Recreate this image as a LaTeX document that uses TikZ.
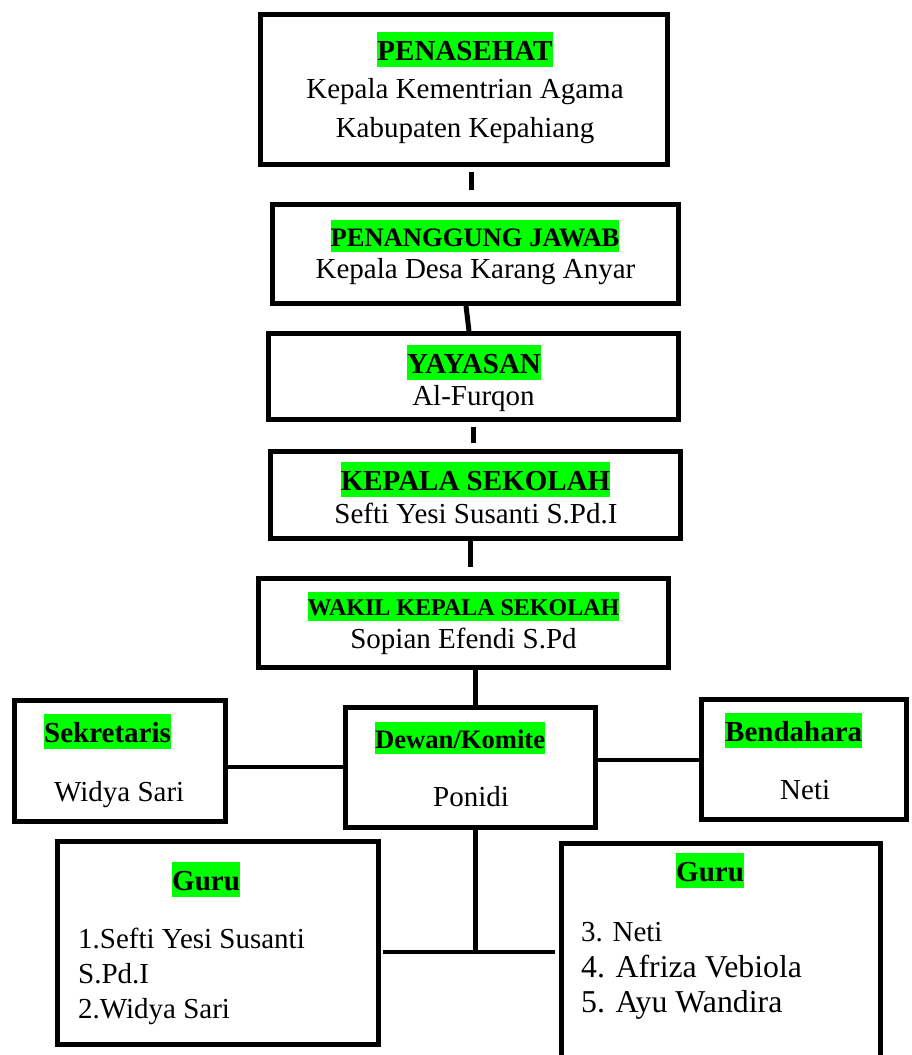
\documentclass[tikz,border=0pt]{standalone}
\usepackage{fontspec}
\setmainfont{Liberation Serif}
\definecolor{hlgreen}{RGB}{0,255,0}
\newcommand\hlbox[1]{{\setlength\fboxsep{0pt}\colorbox{hlgreen}{\rule[-0.24em]{0pt}{1.2em}#1}}}
\newcommand\fsz[1]{\fontsize{#1}{#1}\selectfont}
\begin{document}
\begin{tikzpicture}[x=1pt,y=-1pt,
  box/.style={draw, line width=5pt, rectangle, inner sep=0pt},
  txt/.style={inner sep=0pt, anchor=base, font=\fsz{29}},
  ltxt/.style={txt, anchor=base west},
  conn/.style={line width=5pt},
  thinconn/.style={line width=4.8pt}]
\useasboundingbox (0,0) rectangle (911,1055);
\clip (0,0) rectangle (911,1055);
\fill[white] (0,0) rectangle (911,1055);

% boxes
\node[box, minimum width=407pt, minimum height=150pt] (b1) at (464,89.5) {};
\node[box, minimum width=406pt, minimum height=99pt] (b2) at (475.5,254) {};
\node[box, minimum width=410pt, minimum height=86pt] (b3) at (473.5,376.5) {};
\node[box, minimum width=410pt, minimum height=87pt] (b4) at (475.5,495) {};
\node[box, minimum width=410pt, minimum height=89pt] (b5) at (463.5,623) {};
\node[box, minimum width=211pt, minimum height=121pt] (sek) at (120,761) {};
\node[box, minimum width=250pt, minimum height=120pt] (dew) at (470.5,767.5) {};
\node[box, minimum width=205pt, minimum height=120pt] (ben) at (804,759.5) {};
\node[box, minimum width=321pt, minimum height=203pt] (gl) at (218,943) {};
\node[box, minimum width=319pt, minimum height=234pt] (gr) at (721,960.5) {};

% texts
\node[txt] (t1a) at (465,60) {\bfseries\hlbox{PENASEHAT}};
\node[txt] (t1b) at (465,98) {Kepala Kementrian Agama};
\node[txt] (t1c) at (465,137) {Kabupaten Kepahiang};
\node[txt, font=\fsz{26.6}] (t2a) at (475,246) {\bfseries\hlbox{PENANGGUNG JAWAB}};
\node[txt] (t2b) at (475.5,278) {Kepala Desa Karang Anyar};
\node[txt] (t3a) at (474,373) {\bfseries\hlbox{YAYASAN}};
\node[txt] (t3b) at (473.5,405) {Al-Furqon};
\node[txt] (t4a) at (475.5,490) {\bfseries\hlbox{KEPALA SEKOLAH}};
\node[txt] (t4b) at (476,523) {Sefti Yesi Susanti S.Pd.I};
\node[txt, font=\fsz{24}] (t5a) at (463.5,615) {\bfseries\hlbox{WAKIL KEPALA SEKOLAH}};
\node[txt] (t5b) at (463.5,648) {Sopian Efendi S.Pd};
\node[ltxt] (tsa) at (44,742) {\bfseries\hlbox{Sekretaris}};
\node[ltxt] (tsb) at (54,801) {Widya Sari};
\node[ltxt, font=\fsz{26.6}] (tda) at (375,748) {\bfseries\hlbox{Dewan/Komite}};
\node[ltxt] (tdb) at (433,806) {Ponidi};
\node[ltxt] (tba) at (725,741) {\bfseries\hlbox{Bendahara}};
\node[ltxt] (tbb) at (780,799) {Neti};
\node[ltxt] (tla) at (172,890) {\bfseries\hlbox{Guru}};
\node[ltxt] (tlb) at (78,948) {1.Sefti Yesi Susanti};
\node[ltxt] (tlc) at (78,983) {S.Pd.I};
\node[ltxt] (tld) at (78,1018) {2.Widya Sari};
\node[ltxt] (tra) at (676,881) {\bfseries\hlbox{Guru}};
\node[ltxt] (trb) at (581,941) {3. Neti};
\node[ltxt, font=\fsz{31.8}] (trc) at (581,977) {4. Afriza Vebiola};
\node[ltxt, font=\fsz{31.8}] (trd) at (581,1012) {5. Ayu Wandira};

% connector ends
\coordinate (c1a) at (471,172);
\coordinate (c1b) at (471,190);
\coordinate (c2a) at (466,306);
\coordinate (c2b) at (469,331);
\coordinate (c3a) at (473,427);
\coordinate (c3b) at (473,443);
\coordinate (c4a) at (470,541);
\coordinate (c4b) at (470,567);
\coordinate (vx) at (475,0);
\coordinate (sdy) at (0,767);
\coordinate (dby) at (0,760);
\coordinate (junc) at (475,952);
\coordinate (jl) at (383,952);
\coordinate (jr) at (555,952);

\draw[conn] (c1a) -- (c1b);
\draw[conn] (c2a) -- (c2b);
\draw[conn] (c3a) -- (c3b);
\draw[conn] (c4a) -- (c4b);
\draw[conn] (b5.south -| vx) -- (dew.north -| vx);
\draw[thinconn] (sek.east |- sdy) -- (dew.west |- sdy);
\draw[thinconn] (dew.east |- dby) -- (ben.west |- dby);
\draw[conn] (dew.south -| vx) -- (junc);
\draw[thinconn] (jl) -- (jr);
\end{tikzpicture}
\end{document}
